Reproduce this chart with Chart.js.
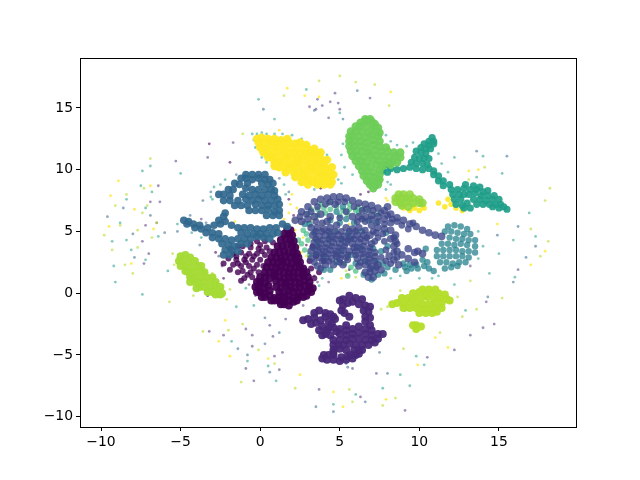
<!DOCTYPE html>
<html>
<head>
<meta charset="utf-8">
<style>body{margin:0;background:#fff}canvas{display:block}</style>
<script src="https://cdn.jsdelivr.net/npm/chart.js@4"></script>
</head>
<body>
<canvas id="umap" width="640" height="480"></canvas>
<script>
// tick labels
const xTicks = [-10, -5, 0, 5, 10, 15];
const yTicks = [-10, -5, 0, 5, 10, 15];

// cluster by cluster
const yellowCluster = [[-.2,12.5],[.1,12.6],[.5,12.5],[.9,12.5],[1.3,12.4],[1.7,12.5],[-.1,12.2],[.2,12.1],[.6,12.3],[1,12.2],[1.4,12.1],[1.8,12.2],[2.2,12.1],[2.5,12.2],[0,11.8],[.3,11.7],[.7,11.9],[1.1,11.8],[1.5,11.7],[1.9,11.8],[2.3,11.7],[2.7,11.8],[3.1,11.6],[.2,11.4],[.5,11.3],[.9,11.4],[1.3,11.5],[1.7,11.3],[2.1,11.4],[2.5,11.3],[2.9,11.4],[3.3,11.3],[3.6,11.3],[.5,11],[.8,11],[1.2,10.9],[1.6,11.1],[2,11],[2.4,10.9],[2.8,11.1],[3.2,11],[3.6,10.9],[3.8,10.9],[.9,10.6],[1.2,10.6],[1.6,10.7],[2,10.5],[2.4,10.6],[2.8,10.7],[3.2,10.5],[3.6,10.6],[4,10.5],[1.6,10.2],[1.9,10.2],[2.3,10.3],[2.7,10.1],[3.1,10.2],[3.5,10.3],[3.9,10.2],[4.1,10.1],[2.1,9.8],[2.4,9.8],[2.8,9.7],[3.2,9.9],[3.6,9.8],[4,9.8],[4.3,9.7],[2.6,9.4],[2.9,9.4],[3.3,9.3],[3.7,9.5],[4.1,9.4],[4.4,9.3],[3.1,9.1],[3.4,9],[3.8,9],[4.2,9.1],[4.5,9],[3.6,8.8],[4,8.8],[4.4,8.8],[1.2,10.2],[1.6,9.8],[2.2,9.4],[2.6,9],[3,8.8],[3.4,11.7],[3.8,11.4],[4.2,10.8],[4.5,10.2],[4.6,9.6],[2.9,12],[.9,10.3]];

const greenCluster = [[6.6,14.1],[6.9,14.1],[6.3,13.8],[6.6,13.9],[7,13.9],[7.2,13.7],[6,13.5],[6.3,13.5],[6.7,13.5],[7.1,13.5],[7.4,13.4],[5.7,13.1],[6,13.1],[6.4,13.1],[6.8,13],[7.2,13.2],[7.5,13],[5.6,12.7],[5.8,12.7],[6.2,12.7],[6.6,12.6],[7,12.8],[7.4,12.7],[5.6,12.3],[5.9,12.3],[6.3,12.3],[6.7,12.2],[7.1,12.4],[7.5,12.3],[5.6,11.9],[5.9,11.9],[6.3,11.9],[6.7,11.8],[7.1,12],[7.5,11.9],[7.9,11.8],[5.7,11.5],[6,11.5],[6.4,11.5],[6.8,11.4],[7.2,11.6],[7.6,11.5],[8,11.5],[8.4,11.4],[8.8,11.4],[5.8,11.1],[6.1,11.1],[6.5,11],[6.9,11.2],[7.3,11.1],[7.7,11.1],[8.1,11],[8.5,11.1],[8.8,11],[6,10.7],[6.3,10.7],[6.7,10.6],[7.1,10.8],[7.5,10.7],[7.9,10.6],[8.3,10.7],[8.6,10.6],[6.2,10.3],[6.5,10.3],[6.9,10.2],[7.3,10.4],[7.7,10.3],[8.2,10.4],[6.4,9.9],[6.7,9.9],[7.1,9.8],[7.5,10],[6.5,9.5],[6.8,9.5],[7.2,9.4],[7.5,9.6],[6.7,9.1],[7,9],[7.4,9.1],[7.5,9.2],[6.9,8.8],[7.2,8.7],[7.4,8.8],[7.1,8.5]];

const tealCluster = [[10.8,12.6],[10.6,12.3],[10.9,12.3],[10.3,12.1],[10.6,12],[10.9,12.1],[10.1,11.8],[10.4,11.7],[10.7,11.7],[9.8,11.5],[10.1,11.4],[10.4,11.3],[9.7,11],[10,10.9],[10.3,10.9],[10.6,10.9],[9.5,10.6],[9.8,10.5],[10.2,10.5],[10.5,10.4],[7.9,10.4],[8.2,10.1],[8.6,10],[9,10.1],[9.4,10.2],[9.8,10.1],[10.2,10],[10.6,10.1],[10.9,9.9],[7.7,9.9],[8,9.8],[10.9,9.6],[11.2,9.5],[11.2,9.1],[11.5,9.1],[11.5,8.7],[11.9,8.8],[12,8.4],[12.4,8.4],[12.8,8.5],[13.2,8.4],[13.6,8.4],[14,8.2],[12.1,8],[12.5,8],[12.8,8],[13.1,8],[13.5,8.1],[13.9,7.9],[14.3,7.9],[12.2,7.6],[12.6,7.6],[13.4,7.6],[13.8,7.6],[14.2,7.5],[14.6,7.6],[12.3,7.2],[12.7,7.1],[13,7.3],[13.6,7.2],[14,7.2],[14.4,7.2],[14.8,7.2],[15.1,7.2],[12.8,6.9],[13.2,6.9],[14.6,7],[15,6.9],[15.3,7],[15.5,6.8],[12.9,8.8],[13.4,8.7],[13.8,8.6],[14.3,8.3],[14.7,7.9],[15,7.6]];

const limeGreenCluster = [[8.7,8],[9,8],[9.4,8],[8.5,7.7],[8.8,7.7],[9.2,7.7],[9.6,7.7],[10,7.6],[8.5,7.4],[8.8,7.3],[9.2,7.4],[9.6,7.3],[10,7.3],[10.2,7.3],[8.9,7.1],[9.3,7]];

const yellowPatches = [[9,6.9],[9.4,6.7],[9.7,6.9],[10,6.7],[10.3,6.9],[9.6,7.1],[10.2,7.1],[11.2,7.3],[11.6,7],[12,7.2],[12.3,6.9],[12.7,6.7],[11.8,7.6]];

const limeLeft = [[-5,3],[-4.7,3.1],[-4.4,2.9],[-5.1,2.6],[-4.9,2.6],[-4.5,2.5],[-4.1,2.6],[-5,2.2],[-4.7,2.1],[-4.3,2.1],[-3.9,2.2],[-4.7,1.8],[-4.5,1.7],[-4.1,1.7],[-3.7,1.8],[-4.4,1.3],[-4.2,1.3],[-3.8,1.3],[-3.4,1.3],[-4.1,.9],[-3.9,.9],[-3.5,.9],[-3.1,1],[-3.8,.5],[-3.5,.5],[-3.1,.5],[-2.8,.6],[-3.3,.1],[-3,.1],[-2.6,.2],[-2.8,-.1],[-2.5,-.1],[-2.4,0],[-3.5,1.7],[-3,1.3],[-2.8,.9],[-2.5,.5],[-3.7,2.2],[-4.4,.9],[-4,.4]];

const limeRight = [[8.3,-.9],[8.6,-.8],[9,-.9],[9.4,-.7],[9.8,-.8],[10.2,-.9],[10.6,-.9],[11,-.8],[11.4,-.8],[8.9,-.4],[9.3,-.4],[9.7,-.3],[10.1,-.4],[10.5,-.3],[10.9,-.4],[11.3,-.4],[11.7,-.5],[11.9,-.6],[9.6,0],[10,.1],[10.4,0],[10.8,.1],[11.2,0],[11.6,-.1],[10.2,.3],[10.6,.3],[11,.3],[9,-1.2],[9.4,-1.2],[9.8,-1.2],[10.2,-1.3],[10.6,-1.3],[11,-1.2],[11.4,-1.2],[10,-1.6],[10.4,-1.6],[10.8,-1.6],[11.1,-1.5],[9.8,-2.6],[9.6,-2.6],[10.1,-2.7],[9.8,-2.9]];

const purpleLower = [[2.7,-2.2],[3,-2.1],[3.4,-2],[3.4,-1.6],[3.7,-1.4],[3.2,-2.5],[3.5,-2.4],[3.9,-2.7],[4.3,-2.3],[4.7,-2.1],[4.4,-1.7],[4.1,-1.6],[4.6,-1.9],[3.7,-3],[4.2,-3],[4.6,-2.8],[4.5,-2.5],[4.4,-3.4],[3.9,-3.4],[5.2,-.5],[5.6,-.2],[6,-.4],[5.2,-1],[5.5,-.8],[5.8,-.7],[6.2,-.9],[6.6,-1],[6.9,-1.1],[5.1,-1.4],[5.3,-1.6],[6.5,-1.4],[6.8,-1.5],[6.6,-1.9],[6.9,-2],[6.6,-2.3],[5.4,-3],[5.8,-2.9],[6.2,-2.7],[6.6,-2.9],[7,-3],[5,-3.3],[5.4,-3.4],[5.8,-3.3],[6.2,-3.2],[6.6,-3.3],[7,-3.4],[7.4,-3.3],[7.7,-3.3],[4.6,-3.8],[5,-3.8],[5.4,-3.8],[5.8,-3.7],[6.2,-3.7],[6.6,-3.8],[7,-3.8],[7.4,-3.7],[4.6,-4.2],[4.9,-4.2],[5.2,-4.2],[5.6,-4.1],[6,-4.2],[6.4,-4.2],[6.8,-4.2],[4.6,-4.6],[5,-4.5],[5.9,-4.6],[6.2,-4.6],[6.4,-4.6],[4,-5],[4.3,-5],[4.6,-5],[5.7,-5],[6,-5],[6.2,-4.9],[3.9,-5.3],[4.2,-5.4],[4.6,-5.4],[5,-5.5],[5.4,-5.4],[5.8,-5.3],[4.1,-1.9],[3.8,-2.2],[4.3,-2.8],[4.1,-3.3],[5,-2.9],[5.4,-2.6],[4.8,-3.1],[5.6,-1.9],[5,-.6],[6.4,-.5],[5.4,-4.6],[4.6,-4.8],[5.1,-5.2],[5.5,-5.1],[7.2,-4],[6.9,-2.6]];

const deepPurple = [[1.7,5.2],[1.9,5.1],[1.5,4.8],[1.8,4.8],[2,4.7],[1.3,4.3],[1.6,4.4],[1.9,4.3],[2.1,4.2],[1.1,3.8],[1.4,3.8],[1.7,3.9],[2,3.8],[2.2,3.7],[.9,3.3],[1.2,3.3],[1.5,3.4],[1.8,3.3],[2.1,3.3],[2.3,3.2],[.7,2.9],[1,2.9],[1.3,2.8],[1.6,3],[1.9,2.9],[2.2,2.8],[2.4,2.9],[.5,2.5],[.8,2.5],[1.1,2.4],[1.4,2.6],[1.7,2.5],[2,2.4],[2.3,2.5],[2.5,2.5],[.4,2.1],[.7,2.1],[1,2],[1.3,2.2],[1.6,2.1],[1.9,2],[2.2,2.1],[2.5,2.1],[2.7,2],[.3,1.7],[.6,1.7],[.9,1.6],[1.2,1.8],[1.5,1.7],[1.8,1.6],[2.1,1.7],[2.4,1.7],[2.7,1.6],[2.9,1.7],[0,1.3],[.3,1.3],[.6,1.2],[.9,1.4],[1.2,1.3],[1.5,1.2],[1.8,1.3],[2.1,1.3],[2.4,1.2],[2.7,1.4],[3,1.3],[-.2,.9],[0,.9],[.3,.8],[1,1],[1.3,.9],[1.6,.8],[1.9,.9],[2.2,.9],[2.5,.8],[2.8,1],[3.1,.9],[-.3,.5],[-.1,.5],[.2,.4],[.5,.6],[1,.5],[1.3,.4],[1.6,.6],[1.9,.5],[2.2,.4],[2.5,.5],[2.8,.6],[3.1,.5],[3.3,.4],[-.2,.1],[0,.1],[.3,0],[.6,.2],[1.2,.1],[1.5,0],[1.8,.2],[2.1,.1],[2.4,0],[2.7,.1],[3,.2],[3.2,.1],[.1,-.3],[.3,-.3],[.6,-.2],[.9,-.4],[1.2,-.3],[1.5,-.3],[1.8,-.2],[2.1,-.4],[2.4,-.3],[2.7,-.3],[2.9,-.2],[.7,-.6],[.9,-.6],[1.2,-.6],[1.5,-.7],[1.8,-.6],[2.1,-.7],[2.3,-.6],[1.3,-.9],[1.5,-.9],[1.8,-1]];

const deepPurpleWing = [[-.2,4.2],[.3,4.2],[.8,4.1],[-1.1,3.8],[-.6,3.7],[-.1,3.6],[.4,3.7],[-1.7,3.2],[-1.2,3.3],[-.7,3.2],[-.2,3.2],[.3,3.1],[-2,2.8],[-1.5,2.7],[-1,2.7],[-.5,2.7],[0,2.7],[-1.7,2.3],[-1.2,2.2],[-.7,2.2],[-.2,2.3],[.2,2.2],[-1.1,1.8],[-.6,1.7],[-.1,1.7],[-1,1.2],[-.5,1.3],[-1.9,3.6],[-1.4,3.8],[-.9,3],[-.4,3],[.1,3.4],[.6,3.4],[-1.4,2.4],[-.9,2.5],[-.4,2],[-.8,1.5],[3.1,2.6],[3.5,3],[3.2,2],[3.7,1.7],[3.3,3.8],[4,2.6],[-2.3,2.4],[-1.9,1.9],[-1.4,1.7],[-1.5,3],[-.6,4],[0,3.9],[-1.2,1],[3.4,1.2]];

const steelBlue = [[-.9,9.6],[-.5,9.6],[-.1,9.6],[.3,9.6],[-1.2,9.3],[-.9,9.3],[-.5,9.2],[-.1,9.3],[.3,9.2],[.6,9.2],[-1.6,8.9],[-1.3,8.8],[-.8,8.9],[.1,8.9],[.5,8.8],[.8,8.9],[-2,8.4],[-1.7,8.4],[-.9,8.5],[-.5,8.4],[-.1,8.4],[.3,8.4],[.7,8.4],[.9,8.3],[-2.6,8],[-2.3,8],[-1.9,7.9],[-1.1,8],[-.7,7.9],[-.3,8],[.1,7.9],[.5,8],[.9,7.9],[-2.3,7.5],[-1.9,7.5],[-1.4,7.5],[-.9,7.6],[-.5,7.5],[-.1,7.6],[.3,7.5],[.7,7.5],[1.1,7.6],[-1.6,7.1],[-1.2,7.1],[-.8,7.1],[-.3,7.2],[.1,7.1],[.5,7.1],[.9,7.1],[1.2,7.2],[-.7,6.7],[-.3,6.7],[.1,6.7],[.5,6.8],[.9,6.6],[1.2,6.7],[.4,6.3],[.8,6.3],[1.2,6.3],
[-4.8,5.9],[-4.5,5.8],[-4.6,5.6],[-4.2,5.6],[-3.8,5.5],[-4.1,5.3],[-3.7,5.2],[-3.3,5.3],[-2.9,5.5],[-2.5,5.6],[-2.2,5.8],[-2.3,6.2],[-2.2,6.5],[-2.6,5.9],[-1.8,5.5],[-1.4,5.3],[-1,5.3],[-.6,5.3],[-.2,5.2],[.2,5.2],[.6,5.3],[1,5.3],[1.4,5.6],[1.7,5.4],[-3.4,4.9],[-3,4.9],[-2.6,4.8],[-1.2,4.9],[-.8,4.8],[-.4,4.8],[0,4.8],[.4,4.8],[.8,4.8],[1.1,4.9],[-3,4.5],[-2.6,4.4],[-2.2,4.4],[-1.8,4.3],[-1.4,4.4],[-1,4.4],[-.6,4.4],[-.2,4.6],[.2,4.5],[.6,4.4],[-2.4,4],[-2,3.9],[-1.6,3.8],[-1.2,4],[-.8,4],[-2.2,3.5],[-1.8,3.5],[-1.4,3.4],[-2.3,3.1],[-1.9,3.1]];

const indigoCentre = [[2.6,6.6],[3,7],[3.4,7.4],[3.8,7.6],[4.2,7.7],[4.6,7.8],[5,7.8],[5.4,7.7],[5.8,7.5],[6.2,7.3],[6.6,7.2],[7,7.1],[7.4,6.9],[7.8,6.7],[8.2,6.4],[8.6,6.1],[9,5.9],[9.4,5.6],[9.8,5.4],[10.2,5.1],[10.6,4.9],[11,4.7],[11.4,4.6],[2.2,5.9],[2.6,5.8],[3,6],[3.4,6.2],[3.8,6.4],[5.8,6.2],[6.2,6.2],[6.6,6.2],[7,6.3],[7.4,6.2],[7.8,6],[8.2,5.7],[3.2,5.3],[3.6,5.3],[4,5.2],[4.4,5.3],[5.4,5.3],[5.8,5.2],[6.2,5.3],[7,5.5],[7.4,5.3],[7.8,5.2],[8.2,5.1],[3.3,4.7],[3.7,4.6],[4.1,4.7],[4.5,4.6],[4.9,4.7],[5.3,4.6],[5.7,4.6],[6.1,4.7],[6.5,4.7],[6.9,4.7],[3.4,4.1],[3.8,4],[4.2,4],[4.6,4.1],[5,4],[5.4,4.1],[5.8,4],[6.2,4.1],[6.6,4.2],[7,4],[3.2,3.4],[3.6,3.5],[4,3.4],[4.4,3.5],[4.8,3.4],[5.2,3.5],[5.6,3.4],[6,3.4],[6.4,3.5],[6.8,3.4],[7.2,3.3],[3.7,2.9],[4.1,2.9],[4.5,2.8],[5,2.8],[6.1,2.8],[6.5,2.9],[6.9,2.8],[3.2,2.8],[4.6,2.3],[6.2,2.2],[6.6,2.3],[7,2.2],[7.4,2.3],[3.6,2.2],[4.1,2.3],[6.6,1.7],[6.9,1.7],[7.2,1.8],[7.6,1.9],[7.1,1.3],[6.8,1.3],[8.5,4.7],[8.5,4.2],[8.4,3.8],[8.6,3.4],[8.9,3.1],[9.3,2.8],[9.7,2.5],[8.4,2.7],[8.7,2.3],[9.3,3.6],[9.7,3.3],[9.9,3.4],[10.2,3.2],[4.4,6.2],[4.7,7.2],[6.7,6.8],[8,7],[4.8,5.5],[4.2,5.8],[5.9,3.7],[5.2,2.3],[4.8,3],[8.2,4.4],[8.1,3]];

const indigoFill = [[3.2,6.6],[3.6,7],[4.1,7.2],[5.3,7.4],[5.9,7],[6.4,6.7],[7.1,6.7],[7.6,6.5],[8.3,6],[8.9,5.5],[9.3,5.2],[9.6,5.7],[2.9,6.4],[2.5,6.2],[3.5,5.8],[3.9,5.7],[6.1,5.8],[6.6,5.8],[7.4,5.8],[7.8,5.6],[3.5,5],[3.9,5],[4.3,5],[4.7,5],[5.1,5],[5.6,5],[6,5],[7.3,4.9],[7.7,4.8],[3.5,4.4],[3.9,4.3],[4.3,4.4],[4.7,4.4],[5.1,4.4],[5.5,4.3],[5.9,4.4],[6.3,4.4],[6.7,4.5],[3.3,3.7],[3.7,3.7],[4.1,3.7],[4.5,3.8],[4.9,3.7],[5.3,3.8],[6.1,3.7],[6.5,3.8],[6.9,3.7],[3.5,3.1],[3.9,3.2],[4.3,3.2],[4.7,3.2],[5.1,3.1],[5.5,3.1],[6,3.1],[6.4,3.2],[6.8,3.1],[7.2,3],[3.9,2.6],[4.3,2.6],[6.3,2.5],[6.8,2.5],[7.2,2.6],[6.9,2],[7.3,2.1],[8.6,2.9],[8.4,3.3],[8.6,4],[8.4,4.5],[5,6.1],[5.4,6.6],[4.9,7.4],[4.4,7.4],[6.4,6],[7,6],[8,6.3],[8.6,5.8],[7.1,5],[6.6,5.1],[7.4,4.5],[7.2,4.2],[7.8,4.2],[7.9,3.5],[7.6,2.9],[5.5,2.7],[5.4,2.9],[5,2.5],[3.4,2.5],[3.8,2],[7.9,2.6],[8.2,2.4]];

const tealCentre = [[9.1,2.1],[9.5,2],[9.9,2],[10.3,2.2],[10.6,2],[10.9,1.8],[8.5,1.9],[10.2,2.7],[10.5,2.5],[10.4,3.6],[9,2.4],[9.4,2.3],[9.8,2.3],[9.2,1.8],[11.8,5.4],[12.2,5.5],[12.6,5.4],[13,5.2],[11.6,5],[12,5],[12.4,4.9],[12.8,4.8],[13.2,4.8],[11.9,4.5],[12.3,4.4],[12.7,4.4],[13.1,4.3],[13.5,4.3],[11.4,4],[11.8,4],[12.2,3.9],[12.6,4],[13,3.9],[13.5,3.8],[11.1,3.5],[11.5,3.5],[11.9,3.5],[12.3,3.5],[12.7,3.4],[13.1,3.4],[13.5,3.3],[11.1,3],[11.5,3],[11.9,3],[12.3,3],[12.7,3],[13.1,2.9],[11.3,2.5],[11.7,2.5],[12.1,2.4],[12.5,2.5],[12.9,2.5],[11.6,2],[12,2.1],[12.4,2.2],[4.8,6.6],[5.2,7],[4.4,5.9],[5,5.7],[5.4,6],[5.9,5.7],[6.8,5.9],[7.3,5.7],[2.8,5.6],[3.4,4.9],[4.3,4.3],[5.1,4.3],[6.3,3.7],[5.7,3.1],[4.8,2.5],[3.5,3.2],[6.6,2.6],[7.6,3.4],[7.3,2.6],[7.7,2.4],[8,3.8],[7.9,4.9],[6.5,1.5],[7,1.1],[7.4,1.5],[7.8,1.6],[8,2.1],[4,1.9],[4.4,1.9],[5.7,4.4],[6.4,5],[4,3],[5.1,3.4],[6,2.4],[7.1,3.6],[3.6,4.2],[4.4,4.8],[5.5,4.8],[3.1,5.6]];

const greenCentre = [[3.2,6.8],[3.6,6.8],[4,6.9],[4.4,6.8],[4.8,7],[5.2,6.7],[5.6,6.8],[6,6.7],[6.4,6.8],[6.8,6.7],[3.8,7.2],[4.3,7.3],[5.6,7.2],[6.1,6.9],[3.6,6.3],[5.5,6.4],[2.7,5.1],[3,4.3],[4.8,5],[2.6,4],[3.6,3.8],[5.3,2.4],[5.7,2.1],[6,1.8],[5.5,1.4],[5,6.3],[4.1,6.5],[3,6.4],[6.2,6.5],[7.3,6.4],[2.9,4.8],[2.4,4.3],[2.8,3.5],[3.1,3.1]];

// stray points outside the clusters, mixed across the classes
const strayTeal = [[-5,9.7],[-7.2,6.9],[-8.8,5.7],[-7.2,2.7],[-8.4,4.3],[-7.5,8.7],[-9.2,2.2],[-7.4,9.9],[-6.8,8.2],[-8.4,7.6],[-8.1,3.5],[-6.4,4.6],[-6.9,10.3],[-9.1,.9],[-7.4,-.1],[-9.3,4.2],[5,14.6],[2.9,16.5],[12.2,11],[14,11.1],[15.2,9.7],[13.6,9.4],[16.9,6.5],[15.9,4.3],[17.3,4.6],[16,1.3],[14.4,1.6],[15,3.2],[9.8,-5.1],[8.8,-6.6],[10.3,-5.8],[9.4,-7.5],[0.5,-5.9],[-1.8,-3.9],[-.8,-5.5],[1,-7.1],[4.6,-9],[6,-8.2],[7.7,-7.7],[-.1,15.7],[-3.1,7.8],[-5.8,1.8],[-1.5,-1.1],[.9,14.1],[12.2,.7],[12.9,-1.4],[10,1.2],[-.5,12.9],[-.2,12.9],[.1,13],[.4,12.9],[.9,12.9],[1.4,12.9],[2,12.8],[2.6,12.5],[-.4,12.4],[-.3,11.8],[.1,11],[.4,10.6],[1,10.1],[1.5,9.6],[2.1,9.3],[2.6,8.9],[3.4,8.4],[4.2,11.2],[4.6,10.3],[4.9,9.2],[5.1,8.9],[5.2,12.1],[5.1,11.2],[5.3,10.2],[5.8,9.6],[7.9,12.8],[8.2,12.3],[8.6,12],[9.2,11.9],[9.6,12.2],[11.2,11.3],[11.4,10.5],[11.8,9.8],[8,9],[7.9,8.4],[8.2,8.8],[-2.9,8.6],[-2.5,8.8],[-2.2,9.2],[-3,7.6],[1.5,8.8],[1.6,8],[-5.2,5.6],[-4.3,4.9],[-3.7,4.5],[-.4,-1],[-.9,.4],[3.7,.6],[3.9,1.2],[13.7,5],[14,3.8],[13.7,2.8],[10.8,1.2],[11.2,1.4],[8.2,1.2],[8.8,1.4]];
const strayLime = [[-7.3,8.5],[-8.4,8],[-9.1,7.1],[-8.8,5.5],[-9.8,4.7],[-9.3,3.5],[-7.7,3.7],[-7.4,6.5],[-7.7,5.1],[-8.5,2.3],[-8,1.6],[-6.9,10.9],[-7.1,7.1],[-6.5,5.7],[-6.8,4.5],[-5.7,-.7],[-3.6,-3.1],[-2,-3],[-1.1,-2.5],[-.1,-4.6],[.9,-5.7],[-1.2,-7.2],[2.2,-7.7],[5.6,-7.8],[7.7,-9.1],[8.5,-8.5],[5.8,-8.8],[6,17.1],[3.7,17.2],[1.5,16],[5,17.6],[8.1,15.2],[7.2,16.9],[-1.1,12.9],[-4,5.7],[13.1,9.2],[14.1,10.2],[17.9,7.5],[18.2,8.5],[17,5.2],[18.1,4.2],[17.6,3],[15.2,-.4],[13.2,1],[13.6,-1.3],[12.7,-1.9],[9,-4.5],[11.3,-3.2],[-5.5,3.2],[-5.4,2.3],[-4.2,-.2],[-2.1,-.5],[-1.9,.3],[-3,1.6],[8,-1.1],[12.4,-.3],[8.8,.2],[7.6,-1.3],[5.4,1.8],[6,1.3]];
const strayPurple = [[-5.3,10.7],[-6.4,8.7],[-6.3,7.4],[-6.5,5.7],[-7.2,5.5],[-6.9,7.4],[-7.4,4.2],[-7,3.2],[-7.3,2.4],[-3.2,-3.1],[-2.3,-3.4],[-.9,-2.9],[-.5,-3.4],[.8,-3.5],[1.4,-4.8],[-.5,-4.3],[.9,-5.1],[1.2,-6.2],[-.9,-6.1],[-.4,-7.1],[3.5,14.9],[3.9,15.2],[4.4,15.5],[4.3,14.2],[3.1,15.1],[4.7,16.2],[3.6,15.7],[4.9,15.4],[6.9,15.8],[5,14.9],[.6,-2.6],[1.6,-2.1],[-1.7,12.2],[-3.3,11],[-3.7,6],[13.2,2.2],[16.2,1.9],[14.2,-.7],[14.7,-2.5],[14,-2.8],[13.2,-3.4],[12.2,-4.6],[6.3,-8.4],[3.7,-7.8],[7.3,-6.5],[9.1,-9.5],[5.8,-6.1],[10.5,-5.2],[-.3,-.2],[-.7,.7],[3.4,1.4],[3.6,.9],[4.3,.9],[2.7,-1],[-2.4,2.2],[-2.6,3]];
const strayYellow = [[-8.9,9.1],[-6.9,8.7],[-7.9,6.8],[-9.4,7.9],[-9.5,5.4],[-8.1,2.4],[-6.7,5.2],[-1.6,5.8],[2,8],[1.2,13.2],[1.7,16.6],[2.8,16],[3.7,15.9],[-2.6,-3.9],[-2.2,-2.2],[-1.9,-5.1],[.5,-5.3],[2.5,-6.6],[4.6,-8],[7.9,-8.6],[5.2,-9.2],[11,-3.6],[9.9,-5.8],[11.8,-4.4],[17.9,3.4],[17,2.3],[14.9,5.6],[13.7,10],[13.1,9.9],[8.2,16.3],[2.1,5.9],[2.2,5.1],[2.7,4.5],[3.2,3.6],[3.9,5.6],[4.4,3.9],[2.5,5.6],[3.2,5.9],[2.9,3],[1.8,6.5],[1.9,7.2],[8.9,11.6],[5.5,1.5],[5.1,1.2],[2.3,6.9],[1.5,6],[2.6,3.3],[3.3,4.3],[4,5.2],[5.6,5.6],[2.2,4.7],[2.4,3.8],[8,7.5],[7.9,7.7]];
const strayBlue = [[-8.6,6.9],[-9.6,6.2],[-8,4.8],[-6.9,6.3],[-7.9,2.9],[-3.6,7.5],[-3.8,3.9],[-6,4.9],[3.4,14.8],[5.2,14.1],[6.1,16.4],[.2,14.9],[-.8,-5],[.3,-4.1],[.6,-6.4],[-1.4,-4.5],[.3,-2],[1.2,-3.2],[15.9,.9],[14.3,-.3],[16.7,2.9],[17.3,3.8],[14.9,4.7],[16.2,5.4],[13.6,11.5],[15.5,11.1],[8.7,-.6],[9.1,-1.4],[8.9,-1.1],[7.5,-4.8],[5.4,-5.7],[5.5,-6],[8,-6.5],[4.6,-9.6],[3.5,-9.2],[6.6,-8.8],[-5.2,5],[-4.4,6.3],[-3.4,5.7],[-3.1,8.2],[-1.5,9.6],[1.2,9.3],[1.8,8.2]];
const strayDark = [[-3.2,12.1],[-1.9,10.6],[2.1,6.3],[1.8,7.6],[2.8,1.9],[.7,.8],[.5,.9],[-2.8,3.3],[-2.3,1.2],[-3.8,2.1],[-4.7,1.6],[-4,.8],[-3.3,-.2],[10.4,-.4],[11.3,-.5],[11.8,-.3],[10.8,-.7],[3.8,8.5],[6.3,8],[6.8,8.2],[6.2,7.1],[4.4,6.1],[2.9,3.9],[7,2.8],[5.6,1.9]];

const toPoints = pts => pts.map(p => ({x: p[0], y: p[1]}));
const cluster = (pts, color, r) => ({data: toPoints(pts), backgroundColor: color, pointRadius: r, pointBorderWidth: 0, pointHoverRadius: r});

// matplotlib style box round the plot
const frame = {
    id: 'frame',
    afterDraw(chart) {
        const {ctx, chartArea: a} = chart;
        ctx.save();
        ctx.strokeStyle = '#000';
        ctx.lineWidth = 1;
        ctx.strokeRect(a.left + 0.5, a.top + 0.5, a.right - a.left, a.bottom - a.top);
        ctx.restore();
    }
};

const axisOpts = (min, max, ticks) => ({
    type: 'linear',
    min: min,
    max: max,
    afterBuildTicks: axis => { axis.ticks = ticks.map(v => ({value: v})); },
    grid: {drawOnChartArea: false, drawTicks: true, tickLength: 4, tickColor: '#000'},
    border: {display: false},
    ticks: {
        color: '#000',
        autoSkip: false,
        maxRotation: 0,
        padding: 3,
        font: {family: 'DejaVu Sans', size: 13.9},
        callback: v => String(v).replace('-', '\u2212')
    }
});

const xAxis = axisOpts(-11.32, 19.84, xTicks);
xAxis.afterFit = s => { s.height = 53; };
const yAxis = axisOpts(-10.84, 19.05, yTicks);
yAxis.afterFit = s => { s.width = 80; };

new Chart(document.getElementById('umap'), {
    type: 'scatter',
    data: {
        datasets: [
            cluster(indigoCentre, 'rgba(62,73,137,0.8)', 3.8),
            cluster(indigoFill, 'rgba(62,73,137,0.8)', 3.4),
            cluster(tealCentre, 'rgba(38,130,142,0.75)', 3.2),
            cluster(steelBlue, 'rgba(49,104,142,0.92)', 3.8),
            cluster(deepPurpleWing, 'rgba(68,1,84,0.8)', 3),
            cluster(deepPurple, 'rgba(68,1,84,0.95)', 4),
            cluster(purpleLower, 'rgba(72,40,120,0.95)', 4),
            cluster(greenCentre, 'rgba(53,183,121,0.65)', 2.8),
            cluster(greenCluster, 'rgba(110,206,88,0.95)', 4.2),
            cluster(tealCluster, 'rgba(31,158,137,0.92)', 3.6),
            cluster(limeGreenCluster, 'rgba(144,215,67,0.9)', 4.2),
            cluster(yellowPatches, 'rgba(253,231,37,0.9)', 2.8),
            cluster(yellowCluster, 'rgba(253,231,37,0.97)', 4.2),
            cluster(limeLeft, 'rgba(165,219,54,0.97)', 4),
            cluster(limeRight, 'rgba(181,222,43,0.97)', 4),
            cluster(strayTeal, 'rgba(31,158,137,0.55)', 1.4),
            cluster(strayLime, 'rgba(181,222,43,0.6)', 1.4),
            cluster(strayPurple, 'rgba(72,40,120,0.5)', 1.4),
            cluster(strayYellow, 'rgba(253,231,37,0.75)', 1.4),
            cluster(strayBlue, 'rgba(49,104,142,0.55)', 1.4),
            cluster(strayDark, 'rgba(68,1,84,0.6)', 1.4)
        ]
    },
    plugins: [frame],
    options: {
        responsive: false,
        animation: false,
        layout: {padding: {top: 58, right: 64, left: 0, bottom: 0}},
        plugins: {legend: {display: false}, tooltip: {enabled: false}},
        scales: {x: xAxis, y: yAxis}
    }
});
</script>
</body>
</html>
